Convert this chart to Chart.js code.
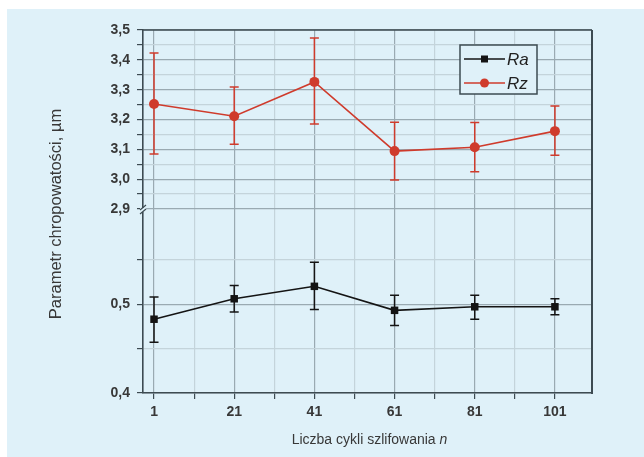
<!DOCTYPE html>
<html>
<head>
<meta charset="utf-8">
<style>
  html, body { margin: 0; padding: 0; background: #fff; }
  #wrap { width: 644px; height: 457px; }
</style>
</head>
<body>
<div id="wrap"><canvas id="chart" width="644" height="457"></canvas></div>
<script src="https://cdn.jsdelivr.net/npm/chart.js"></script>
<script>
// number of grinding cycles
const cycles = [1, 21, 41, 61, 81, 101];
// Ra (lower part of the broken axis)
const ra     = [0.483, 0.506, 0.520, 0.493, 0.497, 0.497];
const raLow  = [0.457, 0.491, 0.494, 0.476, 0.483, 0.488];
const raHigh = [0.508, 0.521, 0.547, 0.510, 0.510, 0.506];
// Rz (upper part)
const rz     = [3.252, 3.211, 3.326, 3.094, 3.107, 3.161];
const rzLow  = [3.084, 3.117, 3.185, 2.997, 3.025, 3.080];
const rzHigh = [3.423, 3.309, 3.473, 3.191, 3.190, 3.245];

const xTicks = [1, 11, 21, 31, 41, 51, 61, 71, 81, 91, 101];
const xLabels = [1, 21, 41, 61, 81, 101];
const upperTicks = [2.9, 2.95, 3.0, 3.05, 3.1, 3.15, 3.2, 3.25, 3.3, 3.35, 3.4, 3.45, 3.5];
const lowerTicks = [0.4, 0.45, 0.5, 0.55];

const bg = '#dff1f9';
const axisCol = '#3d4b52';
const gridMajor = '#9aaab2';
const gridMinor = '#c4d4db';
const textCol = '#383838';
const redCol = '#cf3b2c';
const blackCol = '#141414';

const isMajorY = v => Math.abs(v * 10 - Math.round(v * 10)) < 1e-6;
const yLabel = v => isMajorY(v) ? v.toFixed(1).replace('.', ',') : '';

const panel = {
  id: 'panel',
  beforeDraw(chart) {
    const c = chart.ctx;
    c.save();
    c.fillStyle = bg;
    c.fillRect(7, 9, chart.width - 7, chart.height - 9);
    c.restore();
  }
};

const errorBars = {
  id: 'errorBars',
  beforeDatasetsDraw(chart) {
    const c = chart.ctx;
    chart.data.datasets.forEach((ds, i) => {
      const meta = chart.getDatasetMeta(i);
      const ys = chart.scales[ds.yAxisID];
      c.save();
      c.strokeStyle = ds.borderColor;
      c.lineWidth = 1.5;
      meta.data.forEach((pt, j) => {
        const top = ys.getPixelForValue(ds.errHigh[j]);
        const bot = ys.getPixelForValue(ds.errLow[j]);
        c.beginPath();
        c.moveTo(pt.x, top); c.lineTo(pt.x, bot);
        c.moveTo(pt.x - 4.5, top); c.lineTo(pt.x + 4.5, top);
        c.moveTo(pt.x - 4.5, bot); c.lineTo(pt.x + 4.5, bot);
        c.stroke();
      });
      c.restore();
    });
  }
};

const frame = {
  id: 'frame',
  afterDraw(chart) {
    const c = chart.ctx;
    const a = chart.chartArea;
    c.save();
    c.strokeStyle = axisCol;
    c.lineWidth = 1.5;
    c.beginPath();
    c.moveTo(a.left, a.top); c.lineTo(a.right, a.top);
    c.stroke();
    c.lineWidth = 2;
    c.beginPath();
    c.moveTo(a.right, a.top); c.lineTo(a.right, a.bottom + 1);
    c.stroke();

    // axis break marks
    const yb = chart.scales.yHigh.getPixelForValue(2.9);
    c.fillStyle = bg;
    c.fillRect(a.left - 3, yb - 1, 6, 4);
    c.lineWidth = 1.2;
    c.beginPath();
    c.moveTo(a.left - 3, yb + 1); c.lineTo(a.left + 3, yb - 4);
    c.moveTo(a.left - 3, yb + 5); c.lineTo(a.left + 3, yb);
    c.stroke();

    // legend
    const lx = 460, ly = 45, lw = 77, lh = 49;
    c.fillStyle = bg;
    c.fillRect(lx, ly, lw, lh);
    c.strokeStyle = axisCol;
    c.lineWidth = 1.5;
    c.strokeRect(lx, ly, lw, lh);
    chart.data.datasets.forEach((ds, i) => {
      const y = ly + 14 + i * 24;
      c.strokeStyle = ds.borderColor;
      c.fillStyle = ds.backgroundColor;
      c.lineWidth = 1.5;
      c.beginPath();
      c.moveTo(lx + 4, y); c.lineTo(lx + 45, y);
      c.stroke();
      if (ds.pointStyle === 'rect') {
        c.fillRect(lx + 21, y - 3.5, 7, 7);
      } else {
        c.beginPath();
        c.arc(lx + 24.5, y, 4.5, 0, Math.PI * 2);
        c.fill();
      }
      c.fillStyle = '#222';
      c.font = 'italic 17px "Liberation Sans", Arial, sans-serif';
      c.textBaseline = 'middle';
      c.textAlign = 'left';
      c.fillText(ds.label, lx + 47, y + 1);
    });

    // axis titles
    c.fillStyle = textCol;
    c.textBaseline = 'middle';
    const p1 = 'Liczba cykli szlifowania ';
    c.font = '14px "Liberation Sans", Arial, sans-serif';
    const w1 = c.measureText(p1).width;
    c.font = 'italic 14px "Liberation Sans", Arial, sans-serif';
    const w2 = c.measureText('n').width;
    const sx = (a.left + a.right) / 2 - (w1 + w2) / 2 + 2;
    c.textAlign = 'left';
    c.font = '14px "Liberation Sans", Arial, sans-serif';
    c.fillText(p1, sx, 440);
    c.font = 'italic 14px "Liberation Sans", Arial, sans-serif';
    c.fillText('n', sx + w1, 440);

    c.translate(56, 214);
    c.rotate(-Math.PI / 2);
    c.textAlign = 'center';
    c.font = '16.5px "Liberation Sans", Arial, sans-serif';
    c.fillText('Parametr chropowatości, µm', 0, 0);
    c.restore();
  }
};

const tickFont = { family: '"Liberation Sans", Arial, sans-serif', size: 14, weight: 'bold' };

new Chart(document.getElementById('chart'), {
  type: 'line',
  data: {
    datasets: [
      {
        label: 'Ra',
        data: cycles.map((x, i) => ({ x: x, y: ra[i] })),
        errLow: raLow, errHigh: raHigh,
        yAxisID: 'yLow',
        borderColor: blackCol, backgroundColor: blackCol,
        borderWidth: 1.6, pointStyle: 'rect', pointRadius: 5.3,
        pointBorderWidth: 0, tension: 0
      },
      {
        label: 'Rz',
        data: cycles.map((x, i) => ({ x: x, y: rz[i] })),
        errLow: rzLow, errHigh: rzHigh,
        yAxisID: 'yHigh',
        borderColor: redCol, backgroundColor: redCol,
        borderWidth: 1.6, pointStyle: 'circle', pointRadius: 5,
        pointBorderWidth: 0, tension: 0
      }
    ]
  },
  options: {
    responsive: false,
    devicePixelRatio: 1,
    animation: false,
    layout: { padding: { left: 0, top: 30, right: 52, bottom: 0 } },
    plugins: { legend: { display: false }, tooltip: { enabled: false } },
    scales: {
      x: {
        type: 'linear', min: -1.75, max: 110.25,
        afterBuildTicks: s => { s.ticks = xTicks.map(v => ({ value: v })); },
        afterFit: s => { s.height = 64; },
        ticks: {
          callback: v => xLabels.includes(v) ? String(v) : '',
          font: tickFont, color: textCol, padding: 5, maxRotation: 0, autoSkip: false
        },
        grid: {
          color: ctx => xLabels.includes(ctx.tick && ctx.tick.value) ? gridMajor : gridMinor,
          lineWidth: 1.2, tickColor: axisCol, tickLength: 6
        },
        border: { color: axisCol, width: 1.6 }
      },
      yLow: {
        type: 'linear', position: 'left', stack: 'y', stackWeight: 184,
        min: 0.4, max: 0.607,
        afterBuildTicks: s => { s.ticks = lowerTicks.map(v => ({ value: v })); },
        afterFit: s => { s.width = 143; },
        ticks: { callback: yLabel, font: tickFont, color: textCol, padding: 7, autoSkip: false },
        grid: {
          color: ctx => isMajorY(ctx.tick ? ctx.tick.value : 0) ? gridMajor : gridMinor,
          lineWidth: 1.2, tickColor: axisCol, tickLength: 6
        },
        border: { color: axisCol, width: 1.6 }
      },
      yHigh: {
        type: 'linear', position: 'left', stack: 'y', stackWeight: 179,
        min: 2.9, max: 3.5,
        afterBuildTicks: s => { s.ticks = upperTicks.map(v => ({ value: v })); },
        afterFit: s => { s.width = 143; },
        ticks: { callback: yLabel, font: tickFont, color: textCol, padding: 7, autoSkip: false },
        grid: {
          color: ctx => isMajorY(ctx.tick ? ctx.tick.value : 0) ? gridMajor : gridMinor,
          lineWidth: 1.2, tickColor: axisCol, tickLength: 6
        },
        border: { color: axisCol, width: 1.6 }
      }
    }
  },
  plugins: [panel, errorBars, frame]
});
</script>
</body>
</html>
